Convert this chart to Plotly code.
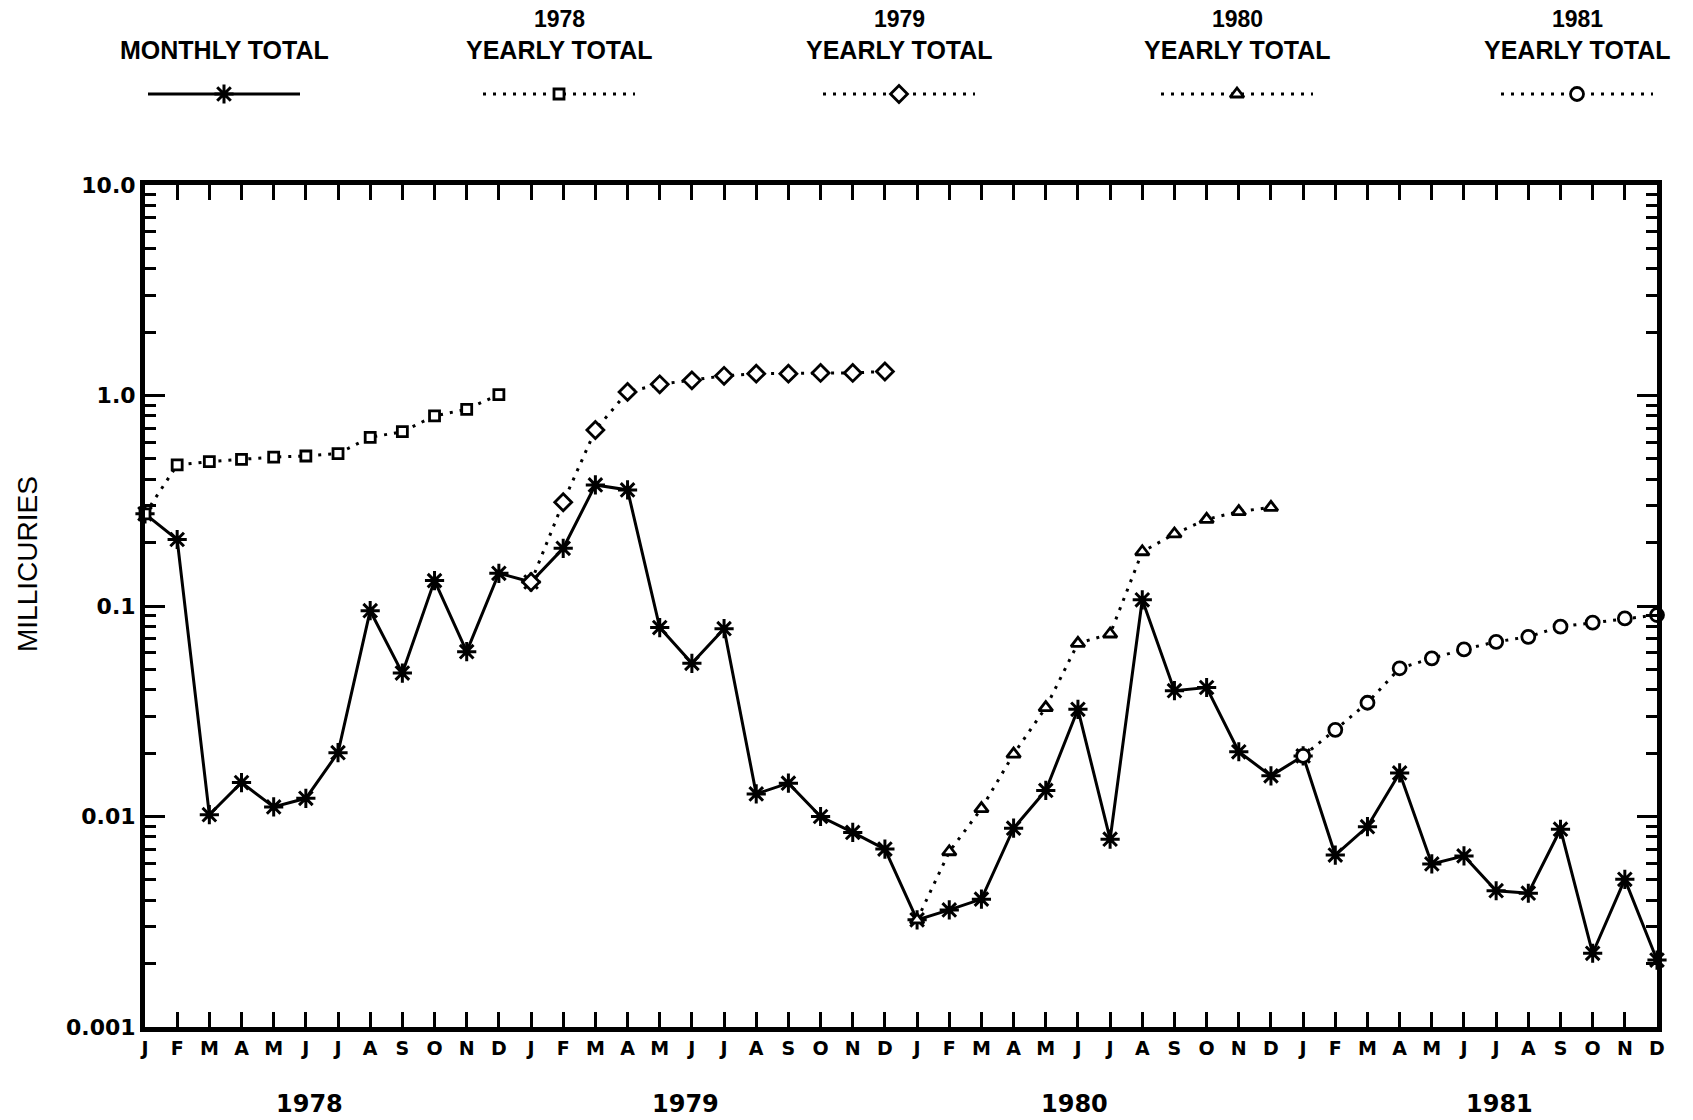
import plotly.graph_objects as go

months = ["J", "F", "M", "A", "M", "J", "J", "A", "S", "O", "N", "D"]
years = ["1978", "1979", "1980", "1981"]
month_labels = months * 4
x_idx = list(range(48))

monthly_total = [
    0.274, 0.207, 0.0102, 0.0145, 0.0111, 0.0122, 0.0201, 0.095, 0.048, 0.132, 0.0607, 0.143,
    0.130, 0.188, 0.376, 0.356, 0.079, 0.0534, 0.078, 0.0128, 0.0144, 0.0100, 0.0084, 0.0070,
    0.00323, 0.0036, 0.00405, 0.0088, 0.0133, 0.0323, 0.0078, 0.107, 0.0396, 0.041, 0.0203, 0.0156,
    0.0194, 0.00656, 0.00895, 0.0161, 0.00595, 0.0065, 0.00444, 0.00432, 0.0087, 0.00224, 0.00503, 0.00208,
]
yearly_1978 = [0.274, 0.468, 0.485, 0.497, 0.51, 0.516, 0.53, 0.633, 0.673, 0.80, 0.86, 1.01]
yearly_1979 = [0.130, 0.311, 0.686, 1.04, 1.13, 1.18, 1.24, 1.27, 1.27, 1.28, 1.28, 1.30]
yearly_1980 = [0.00323, 0.0068, 0.0109, 0.0198, 0.0329, 0.0665, 0.0736, 0.181, 0.22, 0.258, 0.281, 0.294]
yearly_1981 = [0.0194, 0.0258, 0.0347, 0.0506, 0.0564, 0.0622, 0.0676, 0.0714, 0.0798, 0.0834, 0.0873, 0.0906]

y_tickvals = [0.001, 0.01, 0.1, 1, 10]
y_ticktext = ["0.001", "0.01", "0.1", "1.0", "10.0"]
y_minor = [m * 10 ** e for e in range(-3, 1) for m in range(2, 10)]

legend_names = ["MONTHLY TOTAL", "1978\nYEARLY TOTAL", "1979\nYEARLY TOTAL",
                "1980\nYEARLY TOTAL", "1981\nYEARLY TOTAL"]
legend_symbols = ["asterisk-open", "square", "diamond", "triangle-up", "circle"]
legend_sizes = [16, 10, 13, 12, 13]
legend_dash = ["solid", "3px,7px", "3px,7px", "3px,7px", "3px,7px"]
legend_cx = [224, 559, 899, 1237, 1577]
year_label_pos = [5.1, 16.8, 28.9, 42.1]

W, H = 1693, 1120
fig = go.Figure()


def marker_style(i):
    if i == 0:
        return dict(symbol=legend_symbols[0], size=legend_sizes[0], color="black",
                    line=dict(color="black", width=3))
    return dict(symbol=legend_symbols[i], size=legend_sizes[i], color="white",
                line=dict(color="black", width=2.8))


# monthly total
fig.add_trace(go.Scatter(
    x=x_idx, y=monthly_total, mode="lines+markers", cliponaxis=False,
    line=dict(color="black", width=3),
    marker=marker_style(0), showlegend=False))

yearly = [yearly_1978, yearly_1979, yearly_1980, yearly_1981]
for k, vals in enumerate(yearly):
    fig.add_trace(go.Scatter(
        x=x_idx[12 * k:12 * (k + 1)], y=vals, mode="lines+markers", cliponaxis=False,
        line=dict(color="black", width=3, dash="3px,7px"),
        marker=marker_style(k + 1), showlegend=False))

# legend samples on an overlay pixel axis
for i in range(5):
    cx = legend_cx[i]
    fig.add_trace(go.Scatter(
        x=[cx - 76, cx + 76], y=[94, 94], mode="lines", xaxis="x2", yaxis="y2",
        line=dict(color="black", width=3, dash=legend_dash[i]),
        showlegend=False, hoverinfo="skip"))
    fig.add_trace(go.Scatter(
        x=[cx], y=[94], mode="markers", xaxis="x2", yaxis="y2", cliponaxis=False,
        marker=marker_style(i), showlegend=False, hoverinfo="skip"))

annotations = []
for i, name in enumerate(legend_names):
    parts = name.split("\n")
    lines_y = [50] if len(parts) == 1 else [19, 50]
    sizes = [25] if len(parts) == 1 else [23, 25]
    for txt, py, fs in zip(parts, lines_y, sizes):
        annotations.append(dict(
            x=legend_cx[i] / W, y=1 - py / H, xref="paper", yref="paper",
            text=txt, showarrow=False, xanchor="center", yanchor="middle",
            font=dict(family="Liberation Sans", size=fs, color="black", weight="bold")))

for yl, xp in zip(years, year_label_pos):
    annotations.append(dict(
        x=xp, y=1 - 1104 / H, xref="x", yref="paper", text=yl, showarrow=False,
        xanchor="center", yanchor="middle",
        font=dict(family="DejaVu Sans", size=24, color="black", weight="bold")))

annotations.append(dict(
    x=27 / W, y=1 - 564 / H, xref="paper", yref="paper", text="MILLICURIES",
    showarrow=False, textangle=-90, xanchor="center", yanchor="middle",
    font=dict(family="Liberation Sans", size=28, color="black")))

fig.update_layout(
    template="none",
    width=W, height=H,
    margin=dict(l=0, r=0, t=0, b=0, pad=0, autoexpand=False),
    paper_bgcolor="white", plot_bgcolor="rgba(0,0,0,0)",
    annotations=annotations,
    xaxis=dict(
        domain=[145 / W, 1657 / W], range=[0, 47], automargin=False,
        tickmode="array", tickvals=x_idx, ticktext=month_labels,
        ticks="inside", ticklen=15, tickwidth=3, tickcolor="black",
        showline=True, linewidth=5, linecolor="black", mirror="ticks",
        showgrid=False, zeroline=False,
        tickfont=dict(family="DejaVu Sans", size=19, color="black", weight="bold"),
    ),
    yaxis=dict(
        domain=[1 - 1027 / H, 1 - 185 / H], type="log", range=[-3, 1], automargin=False,
        tickmode="array", tickvals=y_tickvals, ticktext=y_ticktext,
        ticks="inside", ticklen=20, tickwidth=3, tickcolor="black",
        minor=dict(tickmode="array", tickvals=y_minor, ticks="inside", ticklen=11,
                   tickwidth=3, tickcolor="black", showgrid=False),
        showline=True, linewidth=5, linecolor="black", mirror="ticks",
        showgrid=False, zeroline=False,
        tickfont=dict(family="DejaVu Sans", size=22, color="black", weight="bold"),
    ),
    xaxis2=dict(domain=[0, 1], range=[0, W], visible=False, anchor="y2",
                fixedrange=True, automargin=False),
    yaxis2=dict(domain=[0, 1], range=[H, 0], visible=False, anchor="x2",
                fixedrange=True, automargin=False),
    showlegend=False,
)

fig.write_html(
    "out.html",
    config={"displayModeBar": False},
    post_script="document.body.style.margin='0px';document.body.style.overflow='hidden';",
)
